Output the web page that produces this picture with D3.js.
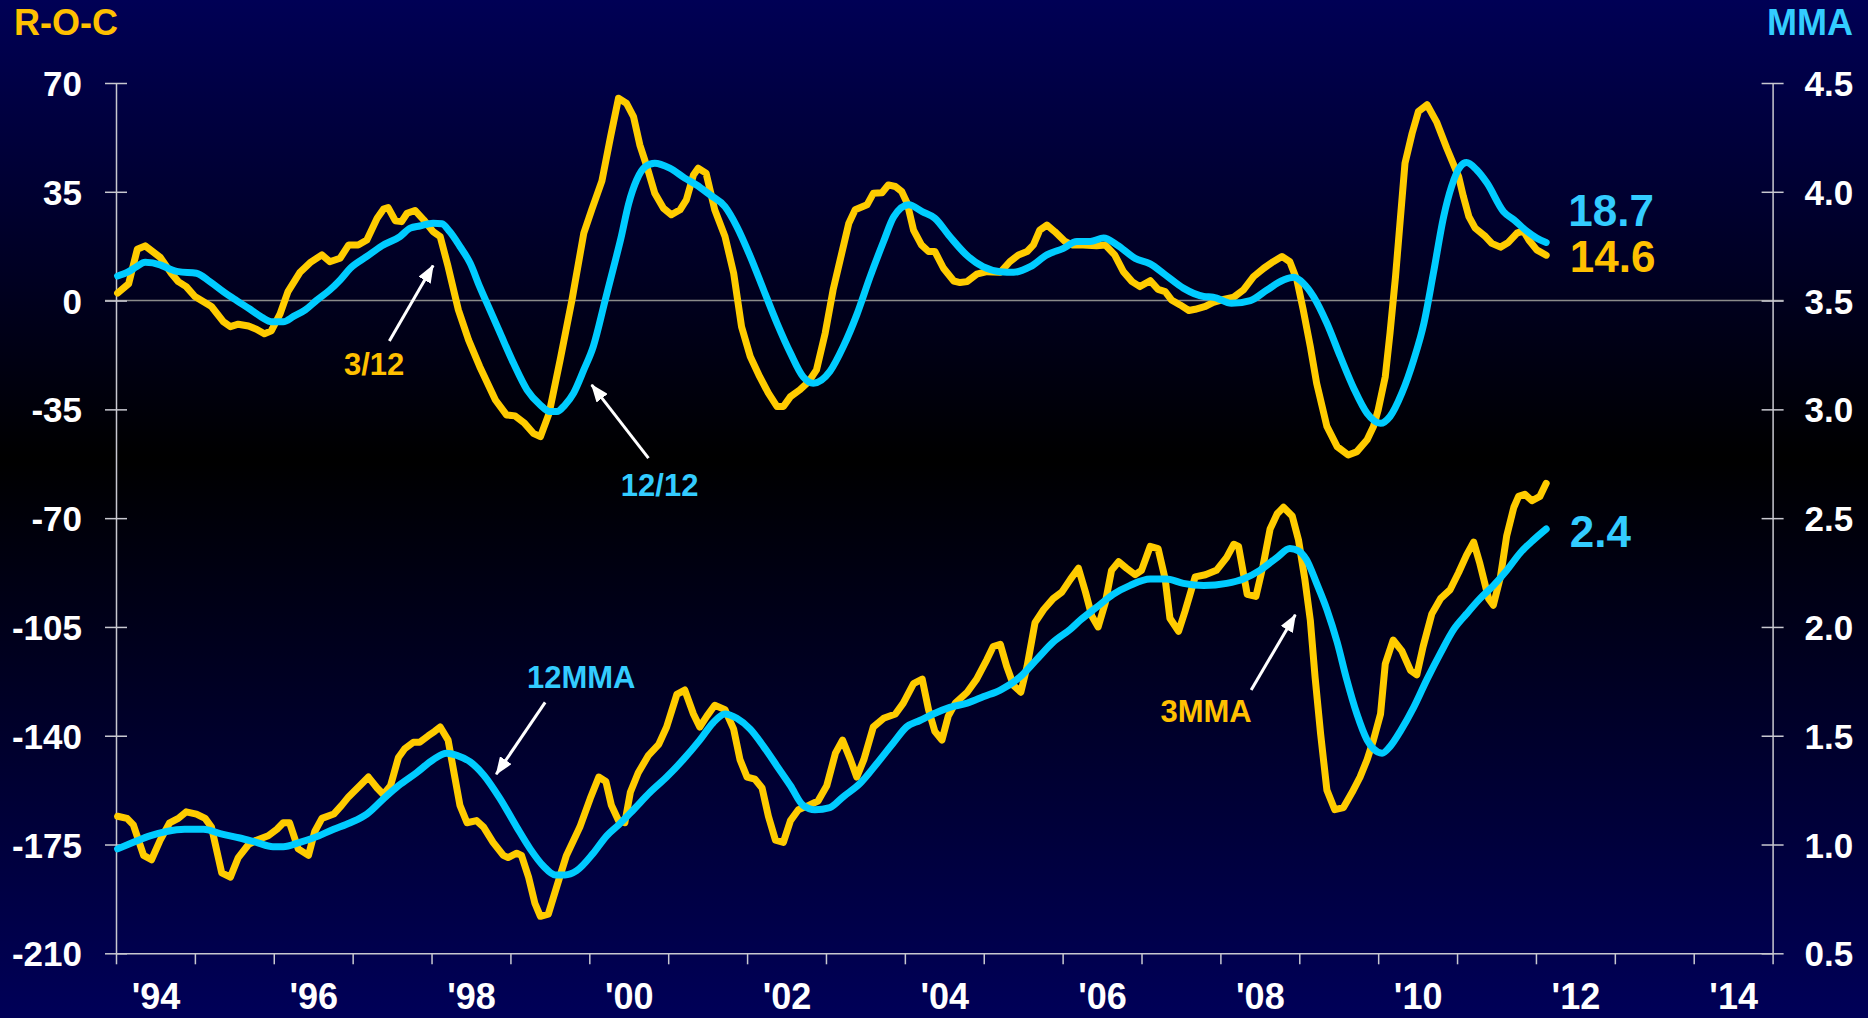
<!DOCTYPE html>
<html>
<head>
<meta charset="utf-8">
<script src="https://cdnjs.cloudflare.com/ajax/libs/d3/7.8.5/d3.min.js"></script>
<style>
  html, body { margin: 0; padding: 0; background: #000; overflow: hidden; }
  #chart text { font-family: "Liberation Sans", Arial, sans-serif; font-weight: bold; }
</style>
</head>
<body>
<div id="chart"></div>
<script>
// Rate of change chart: 3/12 & 12/12 (left axis) and 3MMA & 12MMA (right axis)

// ==========================================================
// Data  [decimal year, value]

// 3/12 rate of change (R-O-C, left axis)
var roc312 = [
  [1994.02, 2.4], [1994.16, 5.4], [1994.27, 16.5], [1994.37, 17.6], [1994.56, 13.9], [1994.70, 8.8],
  [1994.79, 6.1], [1994.89, 4.5], [1995.00, 1.3], [1995.21, -1.9], [1995.36, -6.8], [1995.45, -8.4],
  [1995.55, -7.6], [1995.68, -8.2], [1995.78, -9.2], [1995.88, -10.7], [1995.97, -9.7], [1996.08, -4.3],
  [1996.18, 2.9], [1996.33, 9.0], [1996.46, 12.2], [1996.61, 14.7], [1996.71, 12.5], [1996.84, 13.6],
  [1996.95, 17.9], [1997.07, 17.9], [1997.18, 19.5], [1997.31, 26.5], [1997.39, 29.4], [1997.45, 29.9],
  [1997.54, 25.7], [1997.62, 25.4], [1997.69, 28.1], [1997.79, 29.0], [1997.90, 26.0], [1998.02, 22.2],
  [1998.11, 20.6], [1998.21, 10.9], [1998.34, -3.0], [1998.47, -12.7], [1998.61, -21.2], [1998.81, -32.0],
  [1998.95, -36.8], [1999.06, -37.1], [1999.18, -39.5], [1999.29, -42.7], [1999.38, -43.8], [1999.49, -36.3],
  [1999.63, -19.1], [1999.78, 0.2], [1999.93, 21.7], [2000.03, 29.2], [2000.16, 38.5], [2000.27, 52.8],
  [2000.37, 65.1], [2000.47, 63.5], [2000.56, 59.2], [2000.64, 50.1], [2000.73, 43.1], [2000.83, 34.5],
  [2000.94, 29.7], [2001.04, 27.6], [2001.15, 29.2], [2001.23, 32.4], [2001.32, 40.4], [2001.38, 42.6],
  [2001.48, 41.0], [2001.59, 29.2], [2001.72, 20.6], [2001.83, 8.8], [2001.93, -8.4], [2002.04, -18.0],
  [2002.16, -24.5], [2002.27, -29.8], [2002.38, -34.1], [2002.46, -34.1], [2002.55, -30.9], [2002.67, -28.7],
  [2002.78, -26.1], [2002.88, -22.3], [2002.99, -10.5], [2003.09, 3.4], [2003.18, 13.1], [2003.29, 24.9],
  [2003.37, 29.2], [2003.52, 30.8], [2003.60, 34.5], [2003.71, 34.7], [2003.79, 37.2], [2003.88, 36.7],
  [2003.96, 35.1], [2004.03, 31.3], [2004.11, 22.7], [2004.21, 17.9], [2004.30, 15.8], [2004.38, 15.8],
  [2004.49, 10.4], [2004.62, 6.3], [2004.70, 5.8], [2004.79, 6.1], [2004.91, 8.5], [2005.04, 9.3],
  [2005.21, 9.1], [2005.33, 12.5], [2005.44, 14.7], [2005.55, 15.8], [2005.63, 17.9], [2005.71, 22.7],
  [2005.80, 24.3], [2005.90, 22.2], [2006.03, 19.0], [2006.12, 17.9], [2006.26, 17.9], [2006.43, 17.6],
  [2006.54, 17.9], [2006.66, 14.7], [2006.77, 9.3], [2006.88, 6.1], [2006.98, 4.5], [2007.11, 6.4],
  [2007.21, 3.6], [2007.30, 2.9], [2007.38, 0.2], [2007.49, -1.4], [2007.60, -3.2], [2007.68, -2.8],
  [2007.81, -1.9], [2007.91, -0.6], [2008.04, 0.4], [2008.17, 1.1], [2008.29, 3.4], [2008.42, 7.7],
  [2008.55, 10.4], [2008.67, 12.5], [2008.78, 14.2], [2008.88, 12.5], [2008.97, 6.6], [2009.05, -3.0],
  [2009.14, -14.8], [2009.22, -26.6], [2009.35, -40.5], [2009.48, -47.0], [2009.62, -49.7], [2009.73, -48.6],
  [2009.86, -44.8], [2009.94, -40.5], [2010.00, -35.2], [2010.09, -24.5], [2010.15, -10.5], [2010.22, 7.7],
  [2010.28, 26.0], [2010.34, 44.2], [2010.43, 53.8], [2010.51, 60.8], [2010.62, 63.0], [2010.74, 57.5],
  [2010.87, 49.0], [2011.02, 39.9], [2011.08, 33.5], [2011.15, 27.0], [2011.23, 23.3], [2011.36, 20.6],
  [2011.44, 18.4], [2011.55, 17.2], [2011.65, 18.7], [2011.76, 21.7], [2011.84, 22.5], [2011.91, 19.5],
  [2012.01, 16.3], [2012.13, 14.6]
];

// 12/12 rate of change (R-O-C, left axis)
var roc1212 = [
  [1994.02, 7.9], [1994.16, 9.3], [1994.26, 10.9], [1994.37, 12.3], [1994.56, 11.5], [1994.66, 10.4],
  [1994.79, 9.3], [1995.02, 8.8], [1995.19, 6.1], [1995.36, 2.9], [1995.53, 0.0], [1995.70, -2.8],
  [1995.85, -5.4], [1995.97, -6.8], [1996.12, -6.8], [1996.25, -5.1], [1996.40, -3.0], [1996.54, 0.0],
  [1996.71, 3.4], [1996.84, 6.6], [1996.97, 10.4], [1997.18, 14.2], [1997.37, 17.6], [1997.60, 20.6],
  [1997.73, 23.3], [1997.85, 24.0], [1998.02, 24.9], [1998.13, 24.7], [1998.23, 22.2], [1998.36, 17.4],
  [1998.49, 12.0], [1998.61, 4.5], [1998.74, -3.0], [1998.87, -10.5], [1999.04, -20.2], [1999.21, -28.7],
  [1999.38, -33.6], [1999.50, -35.7], [1999.59, -35.7], [1999.69, -33.6], [1999.80, -29.8], [1999.93, -22.3],
  [2000.05, -14.8], [2000.20, 0.0], [2000.31, 10.9], [2000.40, 20.0], [2000.50, 31.3], [2000.60, 38.8],
  [2000.71, 43.1], [2000.83, 44.2], [2001.02, 42.6], [2001.21, 39.4], [2001.36, 37.2], [2001.53, 34.0],
  [2001.72, 30.2], [2001.87, 23.8], [2002.04, 14.2], [2002.21, 3.4], [2002.38, -7.3], [2002.55, -16.9],
  [2002.71, -24.5], [2002.84, -26.6], [2003.05, -22.8], [2003.22, -14.8], [2003.39, -4.6], [2003.56, 7.7],
  [2003.73, 19.0], [2003.86, 27.0], [2004.05, 30.8], [2004.22, 28.6], [2004.38, 26.5], [2004.57, 20.6],
  [2004.78, 14.7], [2004.99, 10.9], [2005.21, 9.3], [2005.38, 9.1], [2005.59, 10.9], [2005.80, 14.7],
  [2006.01, 16.8], [2006.18, 19.0], [2006.35, 19.0], [2006.52, 20.1], [2006.69, 17.9], [2006.92, 13.6],
  [2007.11, 11.8], [2007.30, 8.3], [2007.53, 4.0], [2007.79, 1.3], [2007.91, 1.1], [2008.14, -0.9],
  [2008.38, 0.0], [2008.59, 3.4], [2008.80, 6.6], [2008.93, 7.5], [2009.05, 5.6], [2009.18, 1.3],
  [2009.35, -7.3], [2009.52, -18.0], [2009.69, -28.2], [2009.86, -36.3], [2010.03, -39.5], [2010.15, -37.3],
  [2010.30, -29.8], [2010.45, -19.1], [2010.58, -7.3], [2010.70, 8.8], [2010.83, 27.0], [2010.93, 36.7],
  [2011.04, 43.1], [2011.12, 44.4], [2011.25, 42.0], [2011.38, 37.8], [2011.59, 28.6], [2011.72, 26.0],
  [2011.89, 22.2], [2012.01, 20.1], [2012.13, 18.7]
];

// 3-month moving average (MMA, right axis)
var mma3 = [
  [1994.02, 1.13], [1994.14, 1.12], [1994.22, 1.09], [1994.35, 0.95], [1994.45, 0.93], [1994.56, 1.02],
  [1994.68, 1.10], [1994.79, 1.12], [1994.89, 1.15], [1995.02, 1.14], [1995.13, 1.12], [1995.21, 1.08],
  [1995.34, 0.87], [1995.45, 0.85], [1995.55, 0.94], [1995.68, 1.00], [1995.78, 1.02], [1995.93, 1.04],
  [1996.04, 1.07], [1996.12, 1.10], [1996.20, 1.10], [1996.31, 0.98], [1996.44, 0.95], [1996.52, 1.06],
  [1996.61, 1.12], [1996.76, 1.14], [1996.86, 1.18], [1996.95, 1.22], [1997.09, 1.27], [1997.20, 1.31],
  [1997.31, 1.26], [1997.39, 1.23], [1997.48, 1.27], [1997.58, 1.40], [1997.66, 1.44], [1997.77, 1.47],
  [1997.85, 1.47], [1997.96, 1.50], [1998.04, 1.52], [1998.11, 1.54], [1998.21, 1.48], [1998.28, 1.34],
  [1998.36, 1.18], [1998.45, 1.10], [1998.57, 1.11], [1998.66, 1.08], [1998.78, 1.01], [1998.91, 0.95],
  [1998.97, 0.94], [1999.08, 0.96], [1999.14, 0.95], [1999.23, 0.85], [1999.31, 0.73], [1999.38, 0.67],
  [1999.48, 0.68], [1999.59, 0.81], [1999.71, 0.95], [1999.88, 1.08], [2000.01, 1.21], [2000.12, 1.31],
  [2000.21, 1.29], [2000.28, 1.18], [2000.37, 1.11], [2000.45, 1.10], [2000.52, 1.24], [2000.62, 1.33],
  [2000.75, 1.41], [2000.88, 1.46], [2000.98, 1.54], [2001.11, 1.69], [2001.21, 1.71], [2001.32, 1.60],
  [2001.40, 1.54], [2001.49, 1.59], [2001.59, 1.64], [2001.72, 1.62], [2001.83, 1.53], [2001.91, 1.39],
  [2002.00, 1.31], [2002.10, 1.30], [2002.19, 1.26], [2002.27, 1.13], [2002.36, 1.02], [2002.46, 1.01],
  [2002.55, 1.11], [2002.65, 1.16], [2002.78, 1.18], [2002.90, 1.20], [2003.01, 1.27], [2003.12, 1.42],
  [2003.21, 1.48], [2003.31, 1.39], [2003.39, 1.31], [2003.48, 1.39], [2003.60, 1.54], [2003.73, 1.58],
  [2003.88, 1.60], [2003.98, 1.65], [2004.11, 1.74], [2004.22, 1.76], [2004.30, 1.62], [2004.38, 1.52],
  [2004.47, 1.48], [2004.55, 1.59], [2004.64, 1.65], [2004.79, 1.70], [2004.91, 1.76], [2005.04, 1.85],
  [2005.12, 1.91], [2005.21, 1.92], [2005.29, 1.82], [2005.38, 1.73], [2005.47, 1.70], [2005.55, 1.82],
  [2005.65, 2.02], [2005.76, 2.08], [2005.88, 2.13], [2005.99, 2.16], [2006.10, 2.22], [2006.20, 2.27],
  [2006.29, 2.16], [2006.37, 2.05], [2006.45, 2.00], [2006.54, 2.11], [2006.62, 2.26], [2006.71, 2.30],
  [2006.81, 2.27], [2006.92, 2.24], [2007.00, 2.26], [2007.11, 2.37], [2007.21, 2.36], [2007.30, 2.22],
  [2007.36, 2.04], [2007.47, 1.98], [2007.55, 2.07], [2007.68, 2.23], [2007.81, 2.24], [2007.95, 2.26],
  [2008.08, 2.32], [2008.17, 2.38], [2008.23, 2.37], [2008.34, 2.15], [2008.45, 2.14], [2008.54, 2.28],
  [2008.63, 2.45], [2008.72, 2.52], [2008.80, 2.55], [2008.91, 2.51], [2008.99, 2.40], [2009.07, 2.22],
  [2009.14, 2.03], [2009.20, 1.77], [2009.27, 1.51], [2009.35, 1.25], [2009.45, 1.16], [2009.56, 1.17],
  [2009.67, 1.24], [2009.77, 1.31], [2009.86, 1.39], [2009.94, 1.48], [2010.03, 1.60], [2010.09, 1.83],
  [2010.19, 1.94], [2010.30, 1.89], [2010.41, 1.80], [2010.49, 1.78], [2010.57, 1.91], [2010.68, 2.06],
  [2010.79, 2.13], [2010.91, 2.17], [2011.02, 2.25], [2011.12, 2.33], [2011.21, 2.39], [2011.29, 2.29],
  [2011.40, 2.13], [2011.46, 2.10], [2011.55, 2.23], [2011.63, 2.42], [2011.72, 2.55], [2011.78, 2.60],
  [2011.86, 2.61], [2011.95, 2.58], [2012.05, 2.60], [2012.13, 2.66]
];

// 12-month moving average (MMA, right axis)
var mma12 = [
  [1994.02, 0.98], [1994.22, 1.01], [1994.43, 1.04], [1994.64, 1.06], [1994.87, 1.07], [1995.11, 1.07],
  [1995.32, 1.05], [1995.57, 1.03], [1995.78, 1.01], [1995.99, 0.99], [1996.12, 0.99], [1996.33, 1.01],
  [1996.50, 1.03], [1996.76, 1.07], [1996.97, 1.10], [1997.18, 1.14], [1997.39, 1.21], [1997.58, 1.27],
  [1997.81, 1.33], [1998.02, 1.39], [1998.19, 1.42], [1998.32, 1.41], [1998.49, 1.38], [1998.66, 1.32],
  [1998.87, 1.21], [1999.08, 1.08], [1999.25, 0.98], [1999.42, 0.90], [1999.57, 0.86], [1999.69, 0.86],
  [1999.84, 0.88], [2000.05, 0.96], [2000.22, 1.04], [2000.37, 1.09], [2000.56, 1.16], [2000.77, 1.24],
  [2000.98, 1.31], [2001.19, 1.39], [2001.40, 1.48], [2001.57, 1.56], [2001.72, 1.60], [2001.87, 1.58],
  [2002.04, 1.53], [2002.21, 1.45], [2002.38, 1.36], [2002.55, 1.27], [2002.71, 1.18], [2002.86, 1.16],
  [2003.05, 1.17], [2003.22, 1.22], [2003.43, 1.28], [2003.64, 1.37], [2003.86, 1.47], [2004.02, 1.54],
  [2004.19, 1.57], [2004.36, 1.60], [2004.57, 1.63], [2004.79, 1.65], [2005.00, 1.68], [2005.21, 1.71],
  [2005.46, 1.77], [2005.67, 1.85], [2005.88, 1.93], [2006.10, 1.99], [2006.22, 2.03], [2006.43, 2.09],
  [2006.64, 2.15], [2006.85, 2.19], [2007.11, 2.22], [2007.32, 2.22], [2007.53, 2.20], [2007.79, 2.19],
  [2008.08, 2.20], [2008.29, 2.22], [2008.50, 2.26], [2008.72, 2.32], [2008.88, 2.36], [2008.99, 2.35],
  [2009.09, 2.31], [2009.22, 2.20], [2009.35, 2.08], [2009.48, 1.93], [2009.60, 1.76], [2009.73, 1.60],
  [2009.86, 1.48], [2009.94, 1.44], [2010.05, 1.42], [2010.15, 1.45], [2010.28, 1.52], [2010.45, 1.63],
  [2010.62, 1.76], [2010.79, 1.88], [2010.96, 1.99], [2011.12, 2.06], [2011.29, 2.13], [2011.46, 2.19],
  [2011.63, 2.26], [2011.80, 2.34], [2011.97, 2.40], [2012.13, 2.45]
];

// axis ticks
var yearTicks = d3.range(1994, 2016);
var yearLabels = [1994, 1996, 1998, 2000, 2002, 2004, 2006, 2008, 2010, 2012, 2014];
var rocTicks = [-210, -175, -140, -105, -70, -35, 0, 35, 70];
var mmaTicks = [0.5, 1.0, 1.5, 2.0, 2.5, 3.0, 3.5, 4.0, 4.5];

// end-of-series value labels
var endLabels = ["18.7", "14.6", "2.4"];

// ==========================================================
// Set margins

var svgWidth = 1868;
var svgHeight = 1018;

var margin = {
    top: 83,
    right: 95.4,
    bottom: 64.7,
    left: 116
};

var width = svgWidth - margin.left - margin.right;
var height = svgHeight - margin.top - margin.bottom;

var yellow = "#ffcc00";
var yellowText = "#ffc000";
var cyan = "#00ccff";
var cyanText = "#33ccff";

// ===========================================================
// SVG wrapper
var svg = d3.select("#chart")
  .append("svg")
  .attr("width", svgWidth)
  .attr("height", svgHeight);

var defs = svg.append("defs");

// background gradient: navy - black - navy
var grad = defs.append("linearGradient")
    .attr("id", "bg")
    .attr("x1", 0).attr("y1", 0)
    .attr("x2", 0).attr("y2", 1);
grad.append("stop").attr("offset", "0%").attr("stop-color", "#000055");
grad.append("stop").attr("offset", "45%").attr("stop-color", "#000000");
grad.append("stop").attr("offset", "100%").attr("stop-color", "#000058");

defs.append("marker")
    .attr("id", "arrow")
    .attr("viewBox", "0 0 18 14")
    .attr("markerUnits", "userSpaceOnUse")
    .attr("markerWidth", 18)
    .attr("markerHeight", 14)
    .attr("refX", 17)
    .attr("refY", 7)
    .attr("orient", "auto")
  .append("path")
    .attr("d", "M0,0 L18,7 L0,14 Z")
    .attr("fill", "#fff");

svg.append("rect")
    .attr("width", svgWidth)
    .attr("height", svgHeight)
    .attr("fill", "url(#bg)");

var chartGroup = svg.append("g")
    .attr("transform", `translate(${margin.left}, ${margin.top})`);

// ===========================================================
// Scales
var xScale = d3.scaleLinear().domain([1994, 2015]).range([0, width]);
var yLeft = d3.scaleLinear().domain([-210, 70]).range([height, 0]);
var yRight = d3.scaleLinear().domain([0.5, 4.5]).range([height, 0]);

// zero line (3.5 on the right)
chartGroup.append("line")
    .attr("x1", -11)
    .attr("x2", width + 11)
    .attr("y1", yLeft(0))
    .attr("y2", yLeft(0))
    .attr("stroke", "#8a8a8a")
    .attr("stroke-width", 1.5);

// ===========================================================
// Axes
function styleAxis(g) {
    g.attr("font-size", null).attr("font-family", null);
    g.selectAll(".domain").attr("stroke", "#c8c8d0").attr("stroke-width", 1.5);
    g.selectAll(".tick line").attr("stroke", "#c8c8d0").attr("stroke-width", 1.5);
    g.selectAll(".tick text").attr("fill", "#fff").style("font-size", "35px");
}

var bottomAxis = d3.axisBottom(xScale)
    .tickValues(yearTicks)
    .tickSize(11)
    .tickSizeOuter(0)
    .tickFormat("");

chartGroup.append("g")
    .attr("transform", `translate(0, ${height})`)
    .call(bottomAxis)
    .call(styleAxis);

// year labels sit in the middle of each even year
var labelAxis = d3.axisBottom(xScale)
    .tickValues(yearLabels.map(d => d + 0.5))
    .tickSize(0)
    .tickFormat(d => "'" + String(Math.floor(d)).slice(2));

var labelGroup = chartGroup.append("g")
    .attr("transform", `translate(0, ${height})`)
    .call(labelAxis)
    .call(styleAxis);
labelGroup.select(".domain").remove();
labelGroup.selectAll(".tick text").attr("y", 56).attr("dy", 0).style("font-size", "36px");

// plain hyphen for negatives, like the original
var leftAxis = d3.axisLeft(yLeft)
    .tickValues(rocTicks)
    .tickSize(11)
    .tickSizeOuter(0)
    .tickPadding(23)
    .tickFormat(d => String(d));

var leftG = chartGroup.append("g")
    .call(leftAxis)
    .call(styleAxis);
leftG.selectAll(".tick line").attr("x1", 11);
leftG.selectAll(".tick text").attr("dy", "0.36em");

var rightAxis = d3.axisRight(yRight)
    .tickValues(mmaTicks)
    .tickSize(11)
    .tickSizeOuter(0)
    .tickPadding(21)
    .tickFormat(d3.format(".1f"));

var rightG = chartGroup.append("g")
    .attr("transform", `translate(${width}, 0)`)
    .call(rightAxis)
    .call(styleAxis);
rightG.selectAll(".tick line").attr("x1", -11);
rightG.selectAll(".tick text").attr("dy", "0.36em");

// axis titles
svg.append("text")
    .attr("x", 14)
    .attr("y", 35)
    .attr("fill", yellowText)
    .style("font-size", "36px")
    .text("R-O-C");

svg.append("text")
    .attr("x", 1853)
    .attr("y", 35)
    .attr("text-anchor", "end")
    .attr("fill", cyanText)
    .style("font-size", "36px")
    .text("MMA");

// ===========================================================
// Lines
var rocLine = d3.line()
    .x(d => xScale(d[0]))
    .y(d => yLeft(d[1]));

var rocSmooth = d3.line()
    .curve(d3.curveMonotoneX)
    .x(d => xScale(d[0]))
    .y(d => yLeft(d[1]));

var mmaLine = d3.line()
    .x(d => xScale(d[0]))
    .y(d => yRight(d[1]));

var mmaSmooth = d3.line()
    .curve(d3.curveMonotoneX)
    .x(d => xScale(d[0]))
    .y(d => yRight(d[1]));

var series = [
    { data: roc312, gen: rocLine, color: yellow },
    { data: roc1212, gen: rocSmooth, color: cyan },
    { data: mma3, gen: mmaLine, color: yellow },
    { data: mma12, gen: mmaSmooth, color: cyan }
];

series.forEach(function(s) {
    chartGroup.append("path")
        .datum(s.data)
        .attr("d", s.gen)
        .attr("fill", "none")
        .attr("stroke", s.color)
        .attr("stroke-width", 7)
        .attr("stroke-linejoin", "round")
        .attr("stroke-linecap", "round");
});

// ===========================================================
// Annotations (positions in chart units, left scale)
var notes = [
    { text: "3/12", t: 1996.89, v: -23.9, color: yellowText, size: 31 },
    { text: "12/12", t: 2000.40, v: -62.8, color: cyanText, size: 31 },
    { text: "12MMA", t: 1999.21, v: -124.7, color: cyanText, size: 31 },
    { text: "3MMA", t: 2007.24, v: -135.5, color: yellowText, size: 31 },
    { text: endLabels[0], t: 2012.41, v: 24.0, color: cyanText, size: 44 },
    { text: endLabels[1], t: 2012.43, v: 9.2, color: yellowText, size: 44 },
    { text: endLabels[2], t: 2012.43, v: -79.2, color: cyanText, size: 44 }
];

chartGroup.selectAll(".note")
    .data(notes)
    .enter()
    .append("text")
    .attr("class", "note")
    .attr("x", d => xScale(d.t))
    .attr("y", d => yLeft(d.v))
    .attr("fill", d => d.color)
    .style("font-size", d => d.size + "px")
    .text(d => d.text);

var arrows = [
    { t1: 1997.465, v1: -13.0, t2: 1998.02, v2: 11.3 },
    { t1: 2000.75, v1: -50.7, t2: 2000.03, v2: -27.1 },
    { t1: 1999.44, v1: -129.3, t2: 1998.82, v2: -152.4 },
    { t1: 2008.39, v1: -125.3, t2: 2008.95, v2: -101.1 }
];

chartGroup.selectAll(".arrow")
    .data(arrows)
    .enter()
    .append("line")
    .attr("class", "arrow")
    .attr("x1", d => xScale(d.t1))
    .attr("y1", d => yLeft(d.v1))
    .attr("x2", d => xScale(d.t2))
    .attr("y2", d => yLeft(d.v2))
    .attr("stroke", "#fff")
    .attr("stroke-width", 3)
    .attr("marker-end", "url(#arrow)");
</script>
</body>
</html>
